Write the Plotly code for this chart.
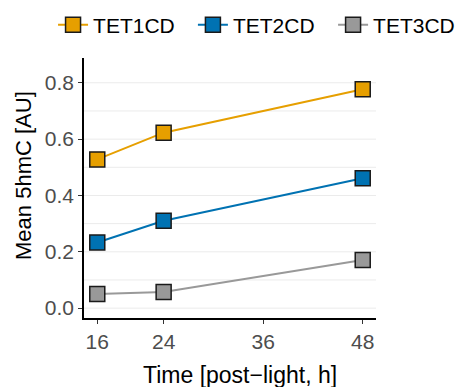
import plotly.graph_objects as go

# Time points (hours after light) and mean 5hmC per construct
time_h = [16, 24, 48]
tet1cd = [0.528, 0.623, 0.777]
tet2cd = [0.233, 0.310, 0.461]
tet3cd = [0.050, 0.057, 0.171]

series = [
    ("TET1CD", tet1cd, "#E69F00"),
    ("TET2CD", tet2cd, "#0072B2"),
    ("TET3CD", tet3cd, "#999999"),
]

x_ticks = [16, 24, 36, 48]
y_ticks = [0.0, 0.2, 0.4, 0.6, 0.8]

x_title = "Time [post\u2212light, h]"
y_title = "Mean 5hmC [AU]"

# one single-entry legend per series, laid out in a row above the panel
legend_ids = ["legend", "legend2", "legend3"]
legend_x = [-0.106, 0.373, 0.853]

font_family = "Liberation Sans, Arial, sans-serif"

fig = go.Figure()
for (name, vals, col), lid in zip(series, legend_ids):
    fig.add_trace(go.Scatter(
        x=time_h, y=vals, name=name, mode="lines+markers", legend=lid,
        line=dict(color=col, width=2),
        marker=dict(symbol="square", size=15, color=col,
                    line=dict(color="#1a1a1a", width=1.5)),
    ))

legend_style = dict(orientation="h", xanchor="left", y=1.127, yanchor="middle",
                    font=dict(size=21, color="#000000"), bgcolor="rgba(0,0,0,0)")

axis_style = dict(
    showgrid=False, zeroline=False,
    showline=True, linecolor="#000000", linewidth=1.5,
    ticks="outside", ticklen=4, tickwidth=1, tickcolor="#333333",
    tickfont=dict(size=21, color="#4d4d4d"),
)

fig.update_layout(
    width=456, height=387,
    margin=dict(l=84, r=80, t=58, b=69, autoexpand=False),
    plot_bgcolor="white", paper_bgcolor="white",
    font=dict(family=font_family, size=21, color="#000000"),
    showlegend=True,
    **{lid: dict(x=lx, **legend_style) for lid, lx in zip(legend_ids, legend_x)},
    xaxis=dict(range=[14.4, 49.6], tickvals=x_ticks,
               ticktext=[str(v) for v in x_ticks], **axis_style),
    yaxis=dict(range=[-0.035, 0.888], tickvals=y_ticks,
               ticktext=[f"{v:.1f}" for v in y_ticks], **axis_style),
)

# axis titles
fig.add_annotation(text=x_title, xref="paper", yref="paper", x=0.535, y=-0.219,
                   xanchor="center", yanchor="middle", showarrow=False,
                   font=dict(size=23, color="#000000"))
fig.add_annotation(text=y_title, xref="paper", yref="paper", x=-0.209, y=0.55,
                   xanchor="center", yanchor="middle", textangle=-90, showarrow=False,
                   font=dict(size=22, color="#000000"))

# light horizontal grid every 0.1
for i in range(9):
    fig.add_shape(type="line", xref="paper", yref="y", x0=0, x1=1,
                  y0=i / 10, y1=i / 10, line=dict(color="#ebebeb", width=1), layer="below")

fig.write_html("out.html")
